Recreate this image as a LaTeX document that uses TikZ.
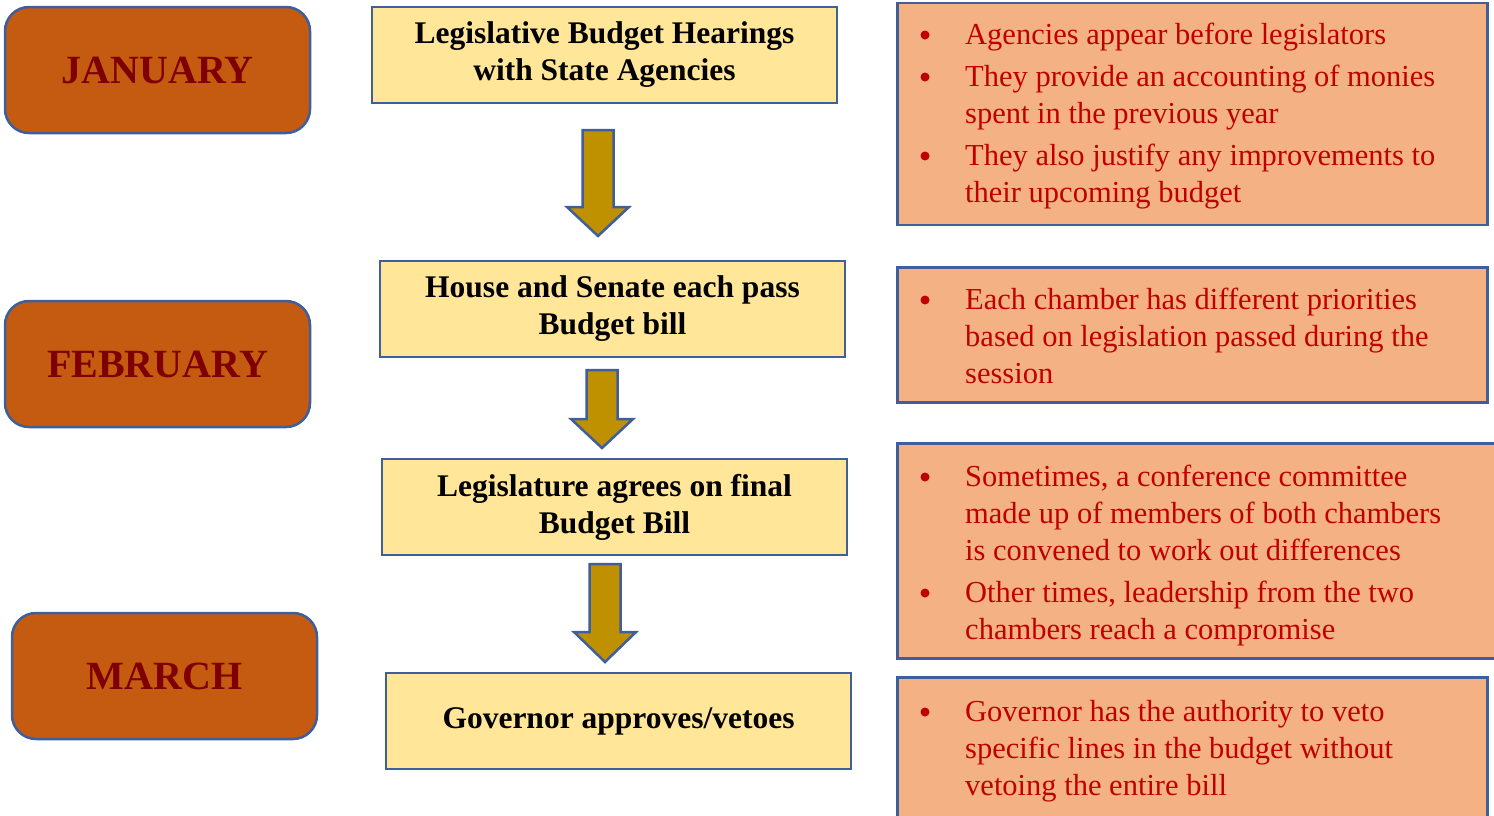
\documentclass[tikz,border=0pt]{standalone}
\usepackage{fontspec}
\setmainfont{Liberation Serif}
\usepackage{xcolor}
\usetikzlibrary{positioning}

\definecolor{monthfill}{HTML}{C55A11}
\definecolor{monthtext}{HTML}{7F0000}
\definecolor{edgeblue}{HTML}{3F5F9C}
\definecolor{stepfill}{HTML}{FFE699}
\definecolor{notefill}{HTML}{F4B183}
\definecolor{notetext}{HTML}{C00000}
\definecolor{arrowfill}{HTML}{BF9000}

\begin{document}
\begin{tikzpicture}[
  x=1pt, y=-1pt,
  month/.style={rectangle,rounded corners=24pt,draw=edgeblue,line width=2.5pt,fill=monthfill,
    text=monthtext,font=\fontsize{40}{44}\selectfont\bfseries,minimum width=305pt,minimum height=126pt},
  stepbox/.style={rectangle,draw=edgeblue,line width=2.5pt,fill=stepfill,align=center,
    font=\fontsize{31.5}{37}\selectfont\bfseries,minimum width=465pt,minimum height=96pt},
  note/.style={rectangle,draw=edgeblue,line width=2.5pt,fill=notefill,anchor=north west,minimum width=590pt},
  item/.style={anchor=base west,align=left,inner sep=0,text=notetext,font=\fontsize{30.5}{37}\selectfont},
  dot/.style={circle,fill=notetext,minimum size=9pt,inner sep=0},
  blockarrow/.style={draw=edgeblue,line width=2.5pt,fill=arrowfill}
]
\useasboundingbox (0,0) rectangle (1494,815);

% Draw month labels
\node[month] (jan) at (157.5,70) {JANUARY};
\node[month] (feb) at (157.5,364) {FEBRUARY};
\node[month] (mar) at (164.5,676) {MARCH};

% Draw budget steps
\node[stepbox] (s1) at (604.5,55) {Legislative Budget Hearings\\with State Agencies};
\node[stepbox] (s2) at (612.5,309) {House and Senate each pass\\Budget bill};
\node[stepbox] (s3) at (614.5,507) {Legislature agrees on final\\Budget Bill};
\node[stepbox] (s4) at (618.5,721) {Governor approves/vetoes};

% Draw block arrows between steps
\foreach \cx/\ya/\yb/\yc in {598/130/207/236, 602/370/419/448, 605/564/632/662}
  \draw[blockarrow] (\cx-15.5,\ya) -- (\cx+15.5,\ya) -- (\cx+15.5,\yb) -- (\cx+31,\yb)
    -- (\cx,\yc) -- (\cx-31,\yb) -- (\cx-15.5,\yb) -- cycle;

% Draw note boxes
\node[note,minimum height=222pt] (n1) at (896,1.5) {};
\node[note,minimum height=135pt] (n2) at (896,266) {};
\node[note,minimum height=215pt,minimum width=610pt] (n3) at (896,442) {};
\node[note,minimum height=160pt] (n4) at (896,676) {};

% Notes for hearings (anchored at the last baseline)
\node[dot] at (925,35) {};
\node[item] (t1) at (965,44) {Agencies appear before legislators};
\node[dot] at (925,77) {};
\node[item] (t2) at (965,123) {They provide an accounting of monies\\spent in the previous year};
\node[dot] at (925,156) {};
\node[item] (t3) at (965,202) {They also justify any improvements to\\their upcoming budget};

% Notes for each chamber
\node[dot] at (925,300) {};
\node[item] (t4) at (965,383) {Each chamber has different priorities\\based on legislation passed during the\\session};

% Notes for final bill
\node[dot] at (925,477) {};
\node[item] (t5) at (965,560) {Sometimes, a conference committee\\made up of members of both chambers\\is convened to work out differences};
\node[dot] at (925,593) {};
\node[item] (t6) at (965,639) {Other times, leadership from the two\\chambers reach a compromise};

% Notes for governor
\node[dot] at (925,712) {};
\node[item] (t7) at (965,795) {Governor has the authority to veto\\specific lines in the budget without\\vetoing the entire bill};

\end{tikzpicture}
\end{document}
